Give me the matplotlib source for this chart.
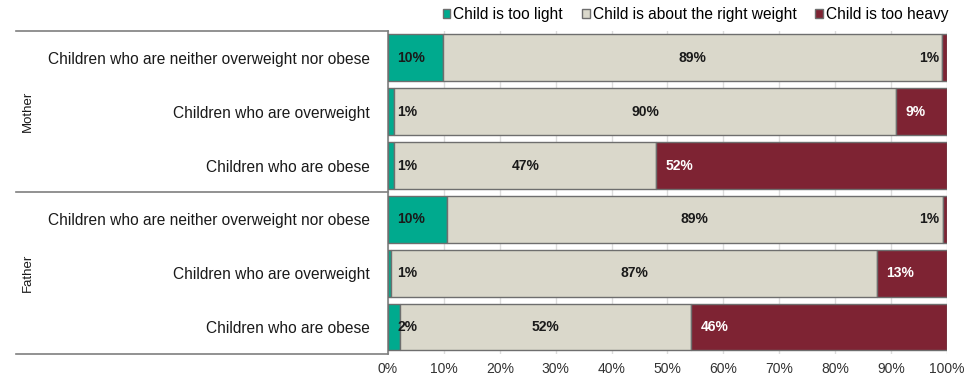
"""Parental perception of child weight, stacked horizontal bars grouped by parent."""
import matplotlib.pyplot as plt
import numpy as np

plt.rcParams["font.family"] = ["Liberation Sans", "DejaVu Sans"]

GROUPS = ["Mother", "Father"]
CATEGORIES = [
    "Children who are neither overweight nor obese",
    "Children who are overweight",
    "Children who are obese",
] * 2
SERIES = ["Child is too light", "Child is about the right weight", "Child is too heavy"]
too_light = [9.9, 1.1, 1.1, 10.5, 0.6, 2.2]
right_weight = [89.2, 89.8, 46.9, 88.7, 86.8, 52.0]
too_heavy = [0.9, 9.1, 52.0, 0.8, 12.6, 45.8]
X_TICKS = [0, 10, 20, 30, 40, 50, 60, 70, 80, 90, 100]

COLORS = ["#00AA8E", "#DAD8CB", "#7E2333"]
EDGE = "#6E6E6E"

fig = plt.figure(figsize=(9.69, 3.78), dpi=100)
ax = fig.add_axes([0.4004, 0.0635, 0.5769, 0.8545])

y = np.arange(len(CATEGORIES))
h = 0.87
light = np.array(too_light)
mid = np.array(right_weight)
heavy = np.array(too_heavy)

ax.barh(y, light, height=h, color=COLORS[0], edgecolor=EDGE, lw=1, label=SERIES[0], zorder=3)
ax.barh(y, mid, left=light, height=h, color=COLORS[1], edgecolor=EDGE, lw=1, label=SERIES[1], zorder=3)
ax.barh(y, heavy, left=light + mid, height=h, color=COLORS[2], edgecolor=EDGE, lw=1, label=SERIES[2], zorder=3)

lab = dict(fontsize=10, fontweight="bold", va="center", zorder=4)
for i in y:
    ax.text(1.7, i, f"{light[i]:.0f}%", ha="left", color="#1a1a1a", **lab)
    ax.text(light[i] + mid[i] / 2, i, f"{mid[i]:.0f}%", ha="center", color="#1a1a1a", **lab)
    start = light[i] + mid[i]
    if heavy[i] < 3:
        ax.text(start - 0.5, i, f"{heavy[i]:.0f}%", ha="right", color="#1a1a1a", **lab)
    else:
        ax.text(start + 1.7, i, f"{heavy[i]:.0f}%", ha="left", color="white", **lab)

ax.set_xlim(0, 100)
ax.set_ylim(len(CATEGORIES) - 0.5, -0.5)
ax.set_xticks(X_TICKS, [f"{t}%" for t in X_TICKS])
ax.set_yticks(y, CATEGORIES)
ax.tick_params(axis="y", length=0, pad=13, labelsize=11.2, labelcolor="#1a1a1a")
ax.tick_params(axis="x", length=0, pad=6, labelsize=10, labelcolor="#333333")
ax.grid(axis="x", color="#DCDCDC", lw=1, zorder=0)
for s in ["top", "right", "bottom"]:
    ax.spines[s].set_visible(False)
ax.spines["left"].set_color("#7F7F7F")
ax.spines["left"].set_linewidth(1.2)

# group brackets on the left
tr = ax.get_yaxis_transform()
for yb in [-0.5, 2.5, 5.5]:
    ax.plot([-0.665, 0], [yb, yb], color="#7F7F7F", lw=1.2, transform=tr, clip_on=False)
for gi, g in enumerate(GROUPS):
    ax.text(-0.645, gi * 3 + 1, g, transform=tr, rotation=90, ha="center", va="center",
            fontsize=9.5, color="#1a1a1a")

fig.legend(loc="upper right", bbox_to_anchor=(0.99, 1.01), ncol=3, frameon=False,
           fontsize=11.2, handlelength=0.5, handleheight=0.5, handletextpad=0.2,
           columnspacing=1.2, borderaxespad=0.3)

fig.savefig("out.png", dpi=100)
